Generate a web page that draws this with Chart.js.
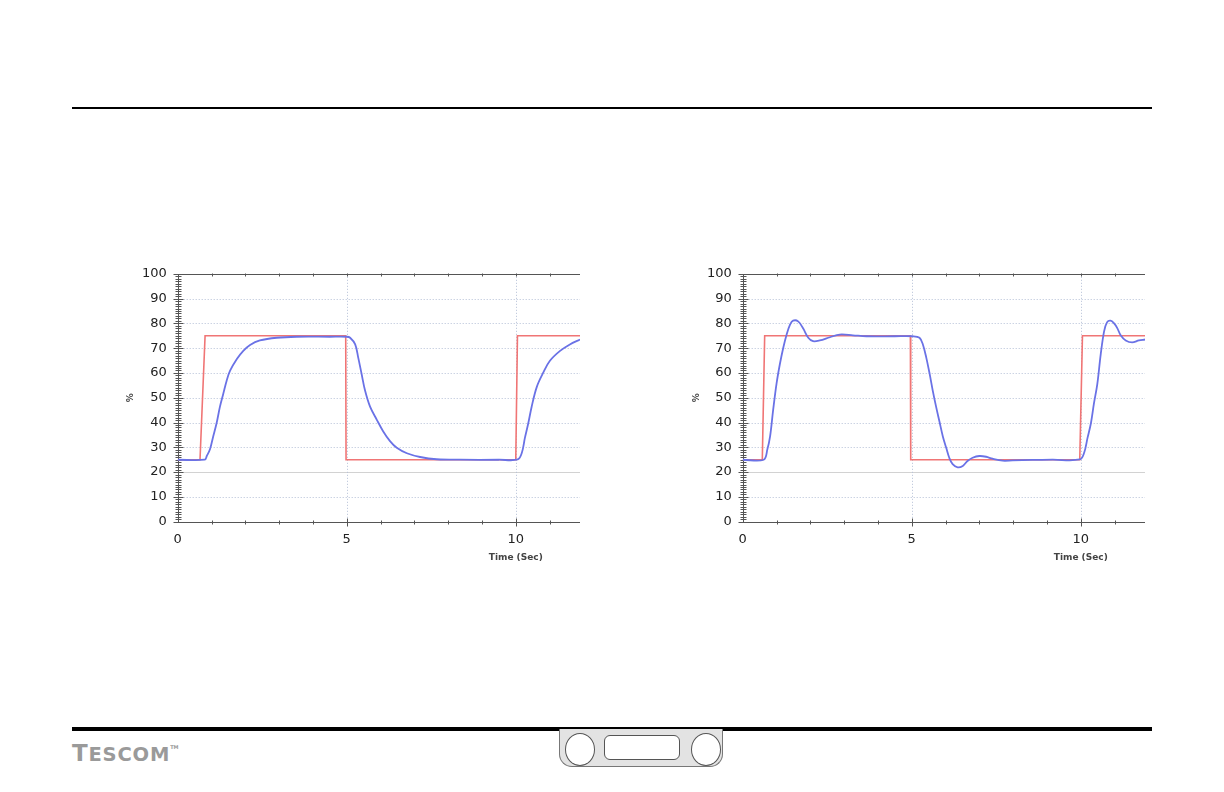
<!DOCTYPE html>
<html>
<head>
<meta charset="utf-8">
<script src="https://cdn.jsdelivr.net/npm/chart.js@4"></script>
<style>
  html, body { margin: 0; padding: 0; background: #fff; }
  body { width: 1224px; height: 792px; position: relative; overflow: hidden; font-family: "DejaVu Sans", sans-serif; }
  .rule { position: absolute; left: 72px; width: 1080px; background: #000; }
  .rule.top { top: 107px; height: 2px; }
  .rule.bottom { top: 727px; height: 4px; }
  .box { position: absolute; top: 255px; width: 480px; height: 330px; }
  #box-01 { left: 110px; }
  #box-02 { left: 680px; }
  .logo { position: absolute; left: 72px; top: 734px; color: #9a9a9a; font-family: "DejaVu Sans", sans-serif;
          font-weight: bold; font-size: 23px; letter-spacing: 0.8px; line-height: 26px; }
  .logo span { font-size: 19.5px; }
  .logo sup { font-size: 5px; vertical-align: 12px; letter-spacing: 0; }
  .tab { position: absolute; left: 559px; top: 729px; width: 162px; height: 37px; background: #e3e3e3;
         border: 1px solid #777; border-top: none; border-radius: 0 0 13px 13px; }
  .hole { position: absolute; top: 4px; width: 30px; height: 33px; border-radius: 50%; background: #fff; border: 1px solid #555; box-sizing: border-box; }
  .hole.l { left: 5px; }
  .hole.r { right: 1px; }
  .slot { position: absolute; left: 44px; top: 6px; width: 76px; height: 25px; border-radius: 6px; background: #fff; border: 1px solid #555; box-sizing: border-box; }
</style>
</head>
<body>
<div class="rule top"></div>
<div class="box" id="box-01"><canvas id="chart-01" width="480" height="330"></canvas></div>
<div class="box" id="box-02"><canvas id="chart-02" width="480" height="330"></canvas></div>
<div class="rule bottom"></div>
<div class="logo">T<span>ESCOM</span><sup>TM</sup></div>
<div class="tab"><div class="hole l"></div><div class="slot"></div><div class="hole r"></div></div>

<script>
// axes
const xMin = 0, xMax = 11.9;
const yMin = 0, yMax = 100;
const xGrid = [5, 10];
const yGrid = [10, 20, 30, 40, 50, 60, 70, 80, 90];

// left chart - slow response
const setTime1 = [0, 0.66, 0.81, 4.97, 4.98, 10.0, 10.05, 11.9];
const setVal1 = [25, 25, 75, 75, 25, 25, 75, 75];
const respTime1 = [0, 0.8, 0.86, 0.955, 1.05, 1.15, 1.25, 1.35, 1.45, 1.55, 1.75, 1.94, 2.14, 2.43, 2.93, 3.52, 4.5, 5.0,
    5.1, 5.25, 5.34, 5.44, 5.54, 5.69, 5.89, 6.08, 6.28, 6.48, 6.78, 7.17, 7.66, 8.35, 9.5, 10.06,
    10.18, 10.27, 10.37, 10.47, 10.62, 10.82, 11.01, 11.31, 11.6, 11.9];
const respVal1 = [25, 25, 26.5, 29.2, 34.4, 39.7, 46.4, 51.7, 57, 60.9, 65.6, 68.9, 71.3, 73.1, 74.2, 74.6, 74.6, 74.6,
    74.2, 71.5, 66.2, 59.6, 53, 46.4, 41.1, 36.4, 32.5, 29.8, 27.6, 26.1, 25.2, 25, 25, 25.1,
    27.8, 33.8, 39.7, 46.4, 54.3, 60.3, 64.9, 68.9, 71.5, 73.5];

// right chart - fast response with overshoot
const setTime2 = [0, 0.58, 0.65, 4.96, 4.97, 9.97, 10.05, 11.9];
const setVal2 = [25, 25, 75, 75, 25, 25, 75, 75];
const respTime2 = [0, 0.62, 0.73, 0.81, 0.9, 1.0, 1.1, 1.2, 1.3, 1.4, 1.49, 1.64, 1.79, 1.94, 2.08, 2.28, 2.58, 2.87, 3.26, 3.66, 4.5, 5.03,
    5.23, 5.33, 5.43, 5.53, 5.62, 5.72, 5.82, 5.92, 6.02, 6.11, 6.21, 6.36, 6.51, 6.65, 6.8, 7.0, 7.2, 7.39, 7.69, 7.98, 8.57, 9.16, 9.97,
    10.1, 10.2, 10.3, 10.39, 10.49, 10.59, 10.69, 10.78, 10.88, 10.98, 11.08, 11.18, 11.33, 11.52, 11.72, 11.9];
const respVal2 = [25, 25, 29.2, 34.4, 45, 55.6, 63.6, 70.2, 75.5, 79.5, 81.1, 80.8, 77.9, 74.2, 72.8, 73.1, 74.4, 75.5, 75.2, 74.8, 74.8, 74.8,
    74.2, 71.5, 66.2, 59.6, 53, 46.4, 40.4, 34.4, 29.8, 25.8, 23.2, 21.9, 22.5, 24.5, 25.8, 26.5, 26.2, 25.4, 24.6, 24.7, 24.9, 25, 25.1,
    27.8, 33.8, 39.7, 47.7, 55.6, 67.5, 76.8, 80.5, 81.1, 80.1, 78.1, 75.2, 73.1, 72.3, 73.1, 73.5];

const toPoints = (xs, ys) => xs.map((x, i) => ({ x: x, y: ys[i] }));

function line(ctx, x1, y1, x2, y2) {
    ctx.beginPath();
    ctx.moveTo(x1, y1);
    ctx.lineTo(x2, y2);
    ctx.stroke();
}

// grid, axes and small tick marks
const frame = {
    id: 'frame',
    beforeDatasetsDraw(chart) {
        const { ctx, chartArea: a, scales: { x, y } } = chart;
        ctx.save();
        ctx.lineWidth = 1;
        yGrid.forEach(v => {
            const py = Math.round(y.getPixelForValue(v)) + 0.5;
            ctx.strokeStyle = v === 20 ? '#d2d2d2' : '#b4bfd6';
            ctx.setLineDash(v === 20 ? [] : [1, 2]);
            line(ctx, a.left, py, a.right, py);
        });
        xGrid.forEach(v => {
            const px = Math.round(x.getPixelForValue(v)) + 0.5;
            ctx.strokeStyle = '#b4bfd6';
            ctx.setLineDash([1, 2]);
            line(ctx, px, a.top, px, a.bottom);
        });
        ctx.setLineDash([]);
        ctx.strokeStyle = '#555';
        const left = Math.round(a.left) + 0.5;
        const bottom = Math.round(a.bottom) + 0.5;
        const top = Math.round(a.top) + 0.5;
        line(ctx, left, top, left, bottom);
        line(ctx, left, bottom, a.right, bottom);
        line(ctx, left, top, a.right, top);
        for (let v = yMin; v <= yMax; v++) {
            const py = Math.round(y.getPixelForValue(v)) + 0.5;
            const len = v % 10 === 0 ? 5 : 3;
            line(ctx, left - len, py, left + len, py);
        }
        for (let v = 1; v <= 11; v++) {
            const px = Math.round(x.getPixelForValue(v)) + 0.5;
            const len = v % 5 === 0 ? 4 : 2;
            line(ctx, px, bottom - len, px, bottom + len);
            line(ctx, px, top - 1, px, top + 2);
        }
        ctx.restore();
    },
    afterDraw(chart) {
        const { ctx, scales: { x, y } } = chart;
        ctx.save();
        ctx.fillStyle = '#444';
        ctx.font = 'bold 9px "DejaVu Sans"';
        ctx.textAlign = 'center';
        ctx.textBaseline = 'middle';
        ctx.fillText('Time (Sec)', x.getPixelForValue(10), 303);
        ctx.translate(chart.options.pctX, y.getPixelForValue(50));
        ctx.rotate(-Math.PI / 2);
        ctx.fillText('%', 0, 0);
        ctx.restore();
    }
};

function makeChart(id, setTime, setVal, respTime, respVal, axisLeft, padRight, pctX) {
    const ctx = document.getElementById(id).getContext('2d');
    return new Chart(ctx, {
        type: 'scatter',
        data: {
            datasets: [{
                label: 'Response',
                data: toPoints(respTime, respVal),
                showLine: true,
                borderColor: '#6a72e6',
                borderWidth: 1.8,
                pointRadius: 0,
                tension: 0.35,
                order: 0
            },
            {
                label: 'Setpoint',
                data: toPoints(setTime, setVal),
                showLine: true,
                borderColor: '#f07575',
                borderWidth: 1.6,
                pointRadius: 0,
                tension: 0,
                order: 1
            }]
        },
        options: {
            responsive: false,
            animation: false,
            pctX: pctX,
            layout: { padding: { top: 14, right: padRight, left: 0, bottom: 0 } },
            plugins: {
                legend: { display: false },
                tooltip: { enabled: false }
            },
            scales: {
                x: {
                    type: 'linear',
                    min: xMin,
                    max: xMax,
                    grid: { display: false, drawTicks: false },
                    border: { display: false },
                    ticks: {
                        stepSize: 5,
                        includeBounds: false,
                        padding: 10,
                        color: '#222',
                        font: { family: 'DejaVu Sans', size: 13 },
                        callback: v => (v % 5 === 0 ? v : '')
                    },
                    afterFit: s => { s.height = 63.3; }
                },
                y: {
                    min: yMin,
                    max: yMax,
                    grid: { display: false, drawTicks: false },
                    border: { display: false },
                    ticks: {
                        stepSize: 10,
                        padding: 11,
                        color: '#222',
                        font: { family: 'DejaVu Sans', size: 13 }
                    },
                    afterFit: s => { s.width = axisLeft; }
                }
            }
        },
        plugins: [frame]
    });
}

makeChart('chart-01', setTime1, setVal1, respTime1, respVal1, 67.7, 10, 21);
makeChart('chart-02', setTime2, setVal2, respTime2, respVal2, 62.7, 15, 17);
</script>
</body>
</html>
